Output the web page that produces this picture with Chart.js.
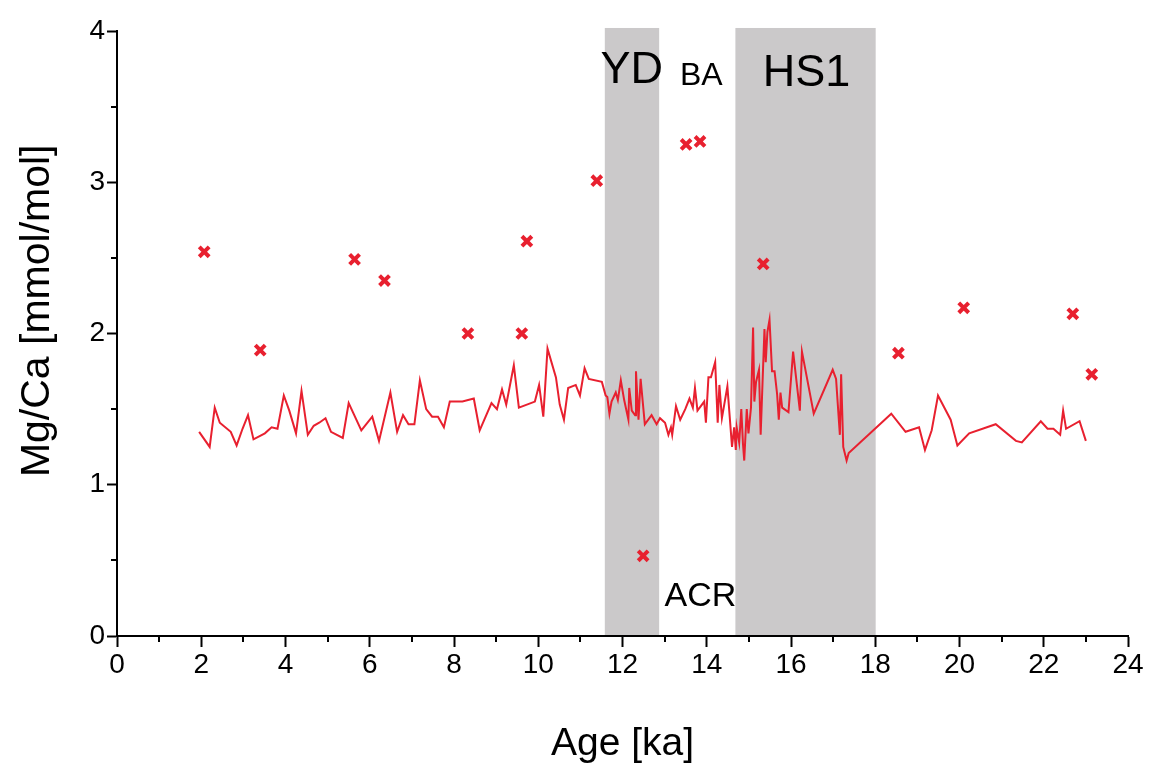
<!DOCTYPE html>
<html>
<head>
<meta charset="utf-8">
<script src="https://cdn.jsdelivr.net/npm/chart.js@4.4.1/dist/chart.umd.min.js"></script>
<style>
  body { margin: 0; background: #fff; }
  #wrap { width: 1153px; height: 770px; }
</style>
</head>
<body>
<div id="wrap"><canvas id="myChart" width="1153" height="770"></canvas></div>
<script>
// Mg/Ca record (line)
var lineAge = [1.95, 2.20, 2.32, 2.44, 2.70, 2.84, 2.98, 3.11, 3.24, 3.51, 3.67, 3.81, 3.96, 4.09, 4.25, 4.38, 4.53, 4.67, 4.80, 4.95,
  5.08, 5.36, 5.50, 5.80, 6.06, 6.22, 6.49, 6.65, 6.79, 6.92, 7.06, 7.19, 7.34, 7.48, 7.62, 7.76, 7.90, 8.20, 8.47, 8.61,
  8.89, 9.02, 9.14, 9.24, 9.42, 9.54, 9.92, 10.02, 10.12, 10.22, 10.42, 10.51, 10.61, 10.71, 10.89, 10.99, 11.10, 11.20, 11.51, 11.60,
  11.64, 11.69, 11.74, 11.84, 11.89, 11.96, 12.04, 12.14, 12.16, 12.22, 12.30, 12.32, 12.38, 12.43, 12.53, 12.69, 12.81, 12.89, 13.01, 13.09,
  13.15, 13.18, 13.27, 13.37, 13.49, 13.59, 13.67, 13.72, 13.78, 13.94, 13.98, 14.04, 14.10, 14.20, 14.26, 14.30, 14.36, 14.49, 14.60, 14.65,
  14.69, 14.71, 14.77, 14.82, 14.86, 14.89, 14.95, 14.99, 15.05, 15.10, 15.13, 15.17, 15.24, 15.28, 15.37, 15.40, 15.44, 15.49, 15.55, 15.61,
  15.67, 15.71, 15.75, 15.79, 15.94, 16.05, 16.21, 16.26, 16.54, 16.99, 17.07, 17.16, 17.19, 17.24, 17.32, 17.37, 18.38, 18.72, 19.04, 19.18,
  19.34, 19.49, 19.79, 19.95, 20.23, 20.86, 21.34, 21.48, 21.93, 22.09, 22.23, 22.39, 22.46, 22.53, 22.85, 23.00];
var lineMgCa = [1.35, 1.25, 1.51, 1.41, 1.35, 1.26, 1.37, 1.46, 1.30, 1.34, 1.38, 1.37, 1.59, 1.49, 1.34, 1.62, 1.33, 1.39, 1.41, 1.44,
  1.35, 1.31, 1.54, 1.36, 1.45, 1.29, 1.61, 1.35, 1.46, 1.40, 1.40, 1.69, 1.50, 1.45, 1.45, 1.38, 1.55, 1.55, 1.57, 1.36,
  1.54, 1.50, 1.63, 1.53, 1.79, 1.51, 1.55, 1.66, 1.45, 1.90, 1.71, 1.53, 1.43, 1.64, 1.66, 1.59, 1.77, 1.70, 1.68, 1.59,
  1.58, 1.47, 1.55, 1.61, 1.56, 1.69, 1.56, 1.43, 1.64, 1.49, 1.46, 1.75, 1.43, 1.70, 1.40, 1.46, 1.40, 1.44, 1.41, 1.33,
  1.38, 1.33, 1.52, 1.43, 1.50, 1.57, 1.51, 1.64, 1.49, 1.55, 1.41, 1.71, 1.71, 1.81, 1.41, 1.66, 1.44, 1.65, 1.25, 1.38,
  1.23, 1.38, 1.28, 1.50, 1.27, 1.16, 1.50, 1.34, 1.51, 2.04, 1.55, 1.68, 1.76, 1.33, 2.03, 1.81, 2.01, 2.09, 1.75, 1.75,
  1.60, 1.43, 1.61, 1.51, 1.48, 1.88, 1.49, 1.88, 1.47, 1.76, 1.70, 1.33, 1.73, 1.25, 1.16, 1.21, 1.47, 1.35, 1.38, 1.23,
  1.36, 1.59, 1.43, 1.26, 1.34, 1.40, 1.29, 1.28, 1.42, 1.37, 1.37, 1.33, 1.49, 1.37, 1.42, 1.29];

// individual measurements (crosses)
var pointAge = [2.07, 3.40, 5.64, 6.35, 8.33, 9.61, 9.73, 11.39, 12.49, 13.51, 13.84, 15.34, 18.55, 20.10, 22.69, 23.14];
var pointMgCa = [2.54, 1.89, 2.49, 2.35, 2.00, 2.00, 2.61, 3.01, 0.53, 3.25, 3.27, 2.46, 1.87, 2.17, 2.13, 1.73];

// climate intervals (YD, HS1)
var shadeStart = [11.58, 14.68];
var shadeEnd = [12.87, 18.01];

var annoText = ['YD', 'BA', 'HS1', 'ACR'];
var annoAge = [12.22, 13.87, 16.37, 13.85];
var annoMgCa = [3.74, 3.70, 3.72, 0.26];
var annoSize = [45, 32, 45, 34];

var red = '#e8202f';
var fontFam = '"Liberation Sans", Arial, sans-serif';

var lineData = lineAge.map(function(a, i) { return { x: a, y: lineMgCa[i] }; });
var pointData = pointAge.map(function(a, i) { return { x: a, y: pointMgCa[i] }; });

var shadePlugin = {
    id: 'shade',
    beforeDraw: function(chart) {
        var ctx = chart.ctx, xs = chart.scales.x, ys = chart.scales.y;
        ctx.save();
        ctx.fillStyle = '#cbc9ca';
        for (var i = 0; i < shadeStart.length; i++) {
            var x0 = xs.getPixelForValue(shadeStart[i]);
            var x1 = xs.getPixelForValue(shadeEnd[i]);
            var y0 = ys.getPixelForValue(4.02);
            var y1 = ys.getPixelForValue(0);
            ctx.fillRect(x0, y0, x1 - x0, y1 - y0);
        }
        ctx.restore();
    },
    afterDraw: function(chart) {
        var ctx = chart.ctx, xs = chart.scales.x, ys = chart.scales.y;
        ctx.save();
        // minor ticks
        ctx.strokeStyle = '#000';
        ctx.lineWidth = 2;
        ctx.beginPath();
        for (var v = 1; v < 24; v += 2) {
            var px = Math.round(xs.getPixelForValue(v));
            ctx.moveTo(px, ys.bottom);
            ctx.lineTo(px, ys.bottom + 6);
        }
        for (var w = 0.5; w < 4; w += 1) {
            var py = Math.round(ys.getPixelForValue(w));
            ctx.moveTo(xs.left - 6, py);
            ctx.lineTo(xs.left, py);
        }
        ctx.stroke();
        // labels
        ctx.fillStyle = '#000';
        ctx.textAlign = 'center';
        ctx.textBaseline = 'middle';
        for (var i = 0; i < annoText.length; i++) {
            ctx.font = annoSize[i] + 'px ' + fontFam;
            ctx.fillText(annoText[i], xs.getPixelForValue(annoAge[i]), ys.getPixelForValue(annoMgCa[i]));
        }
        // y axis title
        ctx.translate(38, ys.getPixelForValue(2.15));
        ctx.rotate(-Math.PI / 2);
        ctx.font = '41px ' + fontFam;
        ctx.fillText('Mg/Ca [mmol/mol]', 0, 0);
        ctx.restore();
    }
};

var ctx = document.getElementById('myChart').getContext('2d');
var myChart = new Chart(ctx, {
    type: 'scatter',
    data: {
        datasets: [{
            label: 'Mg/Ca',
            data: lineData,
            showLine: true,
            borderColor: red,
            borderWidth: 2,
            pointRadius: 0,
            tension: 0
        }, {
            label: 'Mg/Ca points',
            data: pointData,
            showLine: false,
            pointStyle: 'crossRot',
            pointRadius: 7,
            borderColor: red,
            borderWidth: 4
        }]
    },
    options: {
        responsive: false,
        animation: false,
        maintainAspectRatio: false,
        layout: { padding: { left: 0, right: 25, top: 31, bottom: 0 } },
        plugins: {
            legend: { display: false },
            tooltip: { enabled: false }
        },
        scales: {
            x: {
                type: 'linear',
                min: 0,
                max: 24,
                afterFit: function(s) { s.height = 134; },
                ticks: {
                    stepSize: 2,
                    color: '#000',
                    padding: 1,
                    font: { family: fontFam, size: 28 }
                },
                grid: { drawOnChartArea: false, drawTicks: true, tickLength: 11, tickWidth: 2, tickColor: '#000' },
                border: { display: true, color: '#000', width: 2 },
                title: {
                    display: true,
                    text: 'Age [ka]',
                    color: '#000',
                    padding: { top: 0, bottom: 2 },
                    font: { family: fontFam, size: 39 }
                }
            },
            y: {
                min: 0,
                max: 4,
                afterFit: function(s) { s.width = 117; },
                ticks: {
                    stepSize: 1,
                    color: '#000',
                    padding: 2,
                    font: { family: fontFam, size: 28 }
                },
                grid: { drawOnChartArea: false, drawTicks: true, tickLength: 10, tickWidth: 2, tickColor: '#000' },
                border: { display: true, color: '#000', width: 2 },
                title: { display: false }
            }
        }
    },
    plugins: [shadePlugin]
});
</script>
</body>
</html>
